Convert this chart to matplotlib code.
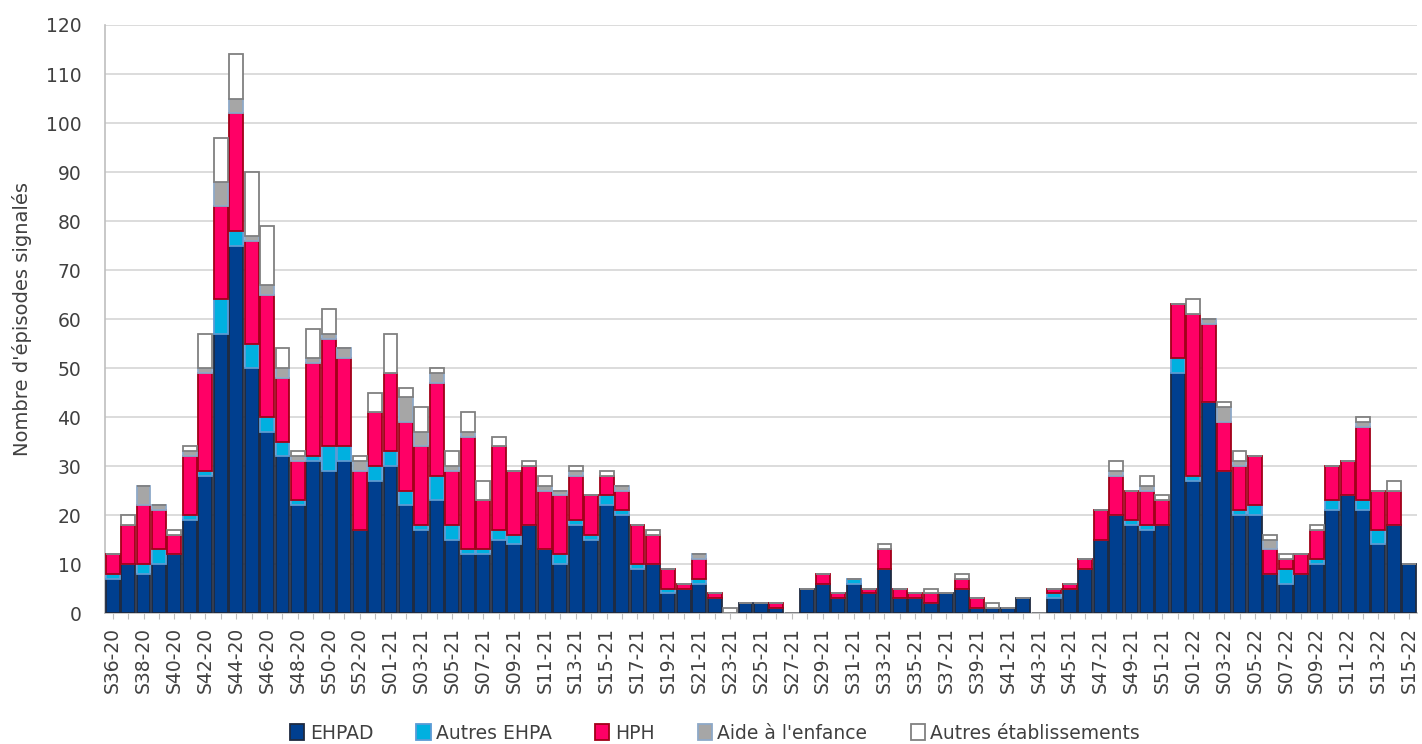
import matplotlib
matplotlib.use('Agg')
import matplotlib.pyplot as plt
import numpy as np

# Weeks S36-20 .. S53-20, S01-21 .. S52-21, S01-22 .. S15-22
weeks = ([f"S{w:02d}-20" for w in range(36, 54)]
         + [f"S{w:02d}-21" for w in range(1, 53)]
         + [f"S{w:02d}-22" for w in range(1, 16)])

ehpad = [7, 10, 8, 10, 12, 19, 28, 57, 75, 50, 37, 32, 22, 31, 29, 31, 17, 27,
         30, 22, 17, 23, 15, 12, 12, 15, 14, 18, 13, 10, 18, 15, 22, 20, 9, 10,
         4, 5, 6, 3, 0, 2, 2, 1, 0, 5, 6, 3, 6, 4, 9, 3, 3, 2, 4, 5, 1, 1, 1, 3,
         0, 3, 5, 9, 15, 20, 18, 17, 18, 49, 27, 43, 29, 20, 20, 8, 6, 8, 10, 21,
         24, 21, 14, 18, 10]
autres_ehpa = [1, 0, 2, 3, 0, 1, 1, 7, 3, 5, 3, 3, 1, 1, 5, 3, 0, 3,
               3, 3, 1, 5, 3, 1, 1, 2, 2, 0, 0, 2, 1, 1, 2, 1, 1, 0,
               1, 0, 1, 0, 0, 0, 0, 0, 0, 0, 0, 0, 1, 0, 0, 0, 0, 0, 0, 0, 0, 0, 0, 0,
               0, 1, 0, 0, 0, 0, 1, 1, 0, 3, 1, 0, 0, 1, 2, 0, 3, 0, 1, 2,
               0, 2, 3, 0, 0]
hph = [4, 8, 12, 8, 4, 12, 20, 19, 24, 21, 25, 13, 8, 19, 22, 18, 12, 11,
       16, 14, 16, 19, 11, 23, 10, 17, 13, 12, 12, 12, 9, 8, 4, 4, 8, 6,
       4, 1, 4, 1, 0, 0, 0, 1, 0, 0, 2, 1, 0, 1, 4, 2, 1, 2, 0, 2, 2, 0, 0, 0,
       0, 1, 1, 2, 6, 8, 6, 7, 5, 11, 33, 16, 10, 9, 10, 5, 2, 4, 6, 7,
       7, 15, 8, 7, 0]
aide_enfance = [0, 0, 4, 1, 0, 1, 1, 5, 3, 1, 2, 2, 1, 1, 1, 2, 2, 0,
                0, 5, 3, 2, 1, 1, 0, 0, 0, 0, 1, 1, 1, 0, 0, 1, 0, 0,
                0, 0, 1, 0, 0, 0, 0, 0, 0, 0, 0, 0, 0, 0, 0, 0, 0, 0, 0, 0, 0, 0, 0, 0,
                0, 0, 0, 0, 0, 1, 0, 1, 0, 0, 0, 1, 3, 1, 0, 2, 0, 0, 0, 0,
                0, 1, 0, 0, 0]
autres_etab = [0, 2, 0, 0, 1, 1, 7, 9, 9, 13, 12, 4, 1, 6, 5, 0, 1, 4,
               8, 2, 5, 1, 3, 4, 4, 2, 0, 1, 2, 0, 1, 0, 1, 0, 0, 1,
               0, 0, 0, 0, 1, 0, 0, 0, 0, 0, 0, 0, 0, 0, 1, 0, 0, 1, 0, 1, 0, 1, 0, 0,
               0, 0, 0, 0, 0, 2, 0, 2, 1, 0, 3, 0, 1, 2, 0, 1, 1, 0, 1, 0,
               0, 1, 0, 2, 0]

series = [
    ("EHPAD", ehpad, '#003F8F', '#1F2A40'),
    ("Autres EHPA", autres_ehpa, '#00B0E0', '#5B9BD5'),
    ("HPH", hph, '#FF0066', '#A00018'),
    ("Aide à l'enfance", aide_enfance, '#A6A6A6', '#8EA9C8'),
    ("Autres établissements", autres_etab, '#FFFFFF', '#808080'),
]

plt.rcParams['font.family'] = ['DejaVu Sans']
text_col = '#404040'

fig = plt.figure(figsize=(14.22, 7.44), dpi=100)
ax = fig.add_axes([0.0738, 0.176, 0.9227, 0.7904])

x = np.arange(len(weeks))
bottom = np.zeros(len(weeks))
for name, vals, fc, ec in series:
    vals = np.array(vals, dtype=float)
    ax.bar(x, vals, width=0.9, bottom=bottom, color=fc, edgecolor=ec,
           linewidth=1.3, label=name, zorder=3)
    bottom += vals

ax.set_xlim(-0.5, len(weeks) - 0.5)
ax.set_ylim(0, 120)
ax.set_yticks(np.arange(0, 121, 10))
ax.yaxis.grid(True, color='#D9D9D9', linewidth=1.3, zorder=0)
ax.set_axisbelow(True)

ax.set_xticks(x)
ax.set_xticklabels([w if i % 2 == 0 else '' for i, w in enumerate(weeks)],
                   rotation=90, fontsize=13.5, color=text_col)
ax.tick_params(axis='x', length=4, color='#BFBFBF', pad=6)
ax.tick_params(axis='y', length=0, labelsize=13.5, labelcolor=text_col, pad=17)

for s in ['top', 'right']:
    ax.spines[s].set_visible(False)
for s in ['left', 'bottom']:
    ax.spines[s].set_color('#BFBFBF')
    ax.spines[s].set_linewidth(1.2)

ax.set_ylabel("Nombre d'épisodes signalés", fontsize=14, color=text_col,
              labelpad=10)

ax.legend(loc='center', bbox_to_anchor=(0.465, -0.204), ncol=5,
          frameon=False, fontsize=13.5, handlelength=0.75, handleheight=0.9,
          handletextpad=0.3, columnspacing=2.3, labelcolor=text_col)

fig.savefig('out.png', dpi=100)
